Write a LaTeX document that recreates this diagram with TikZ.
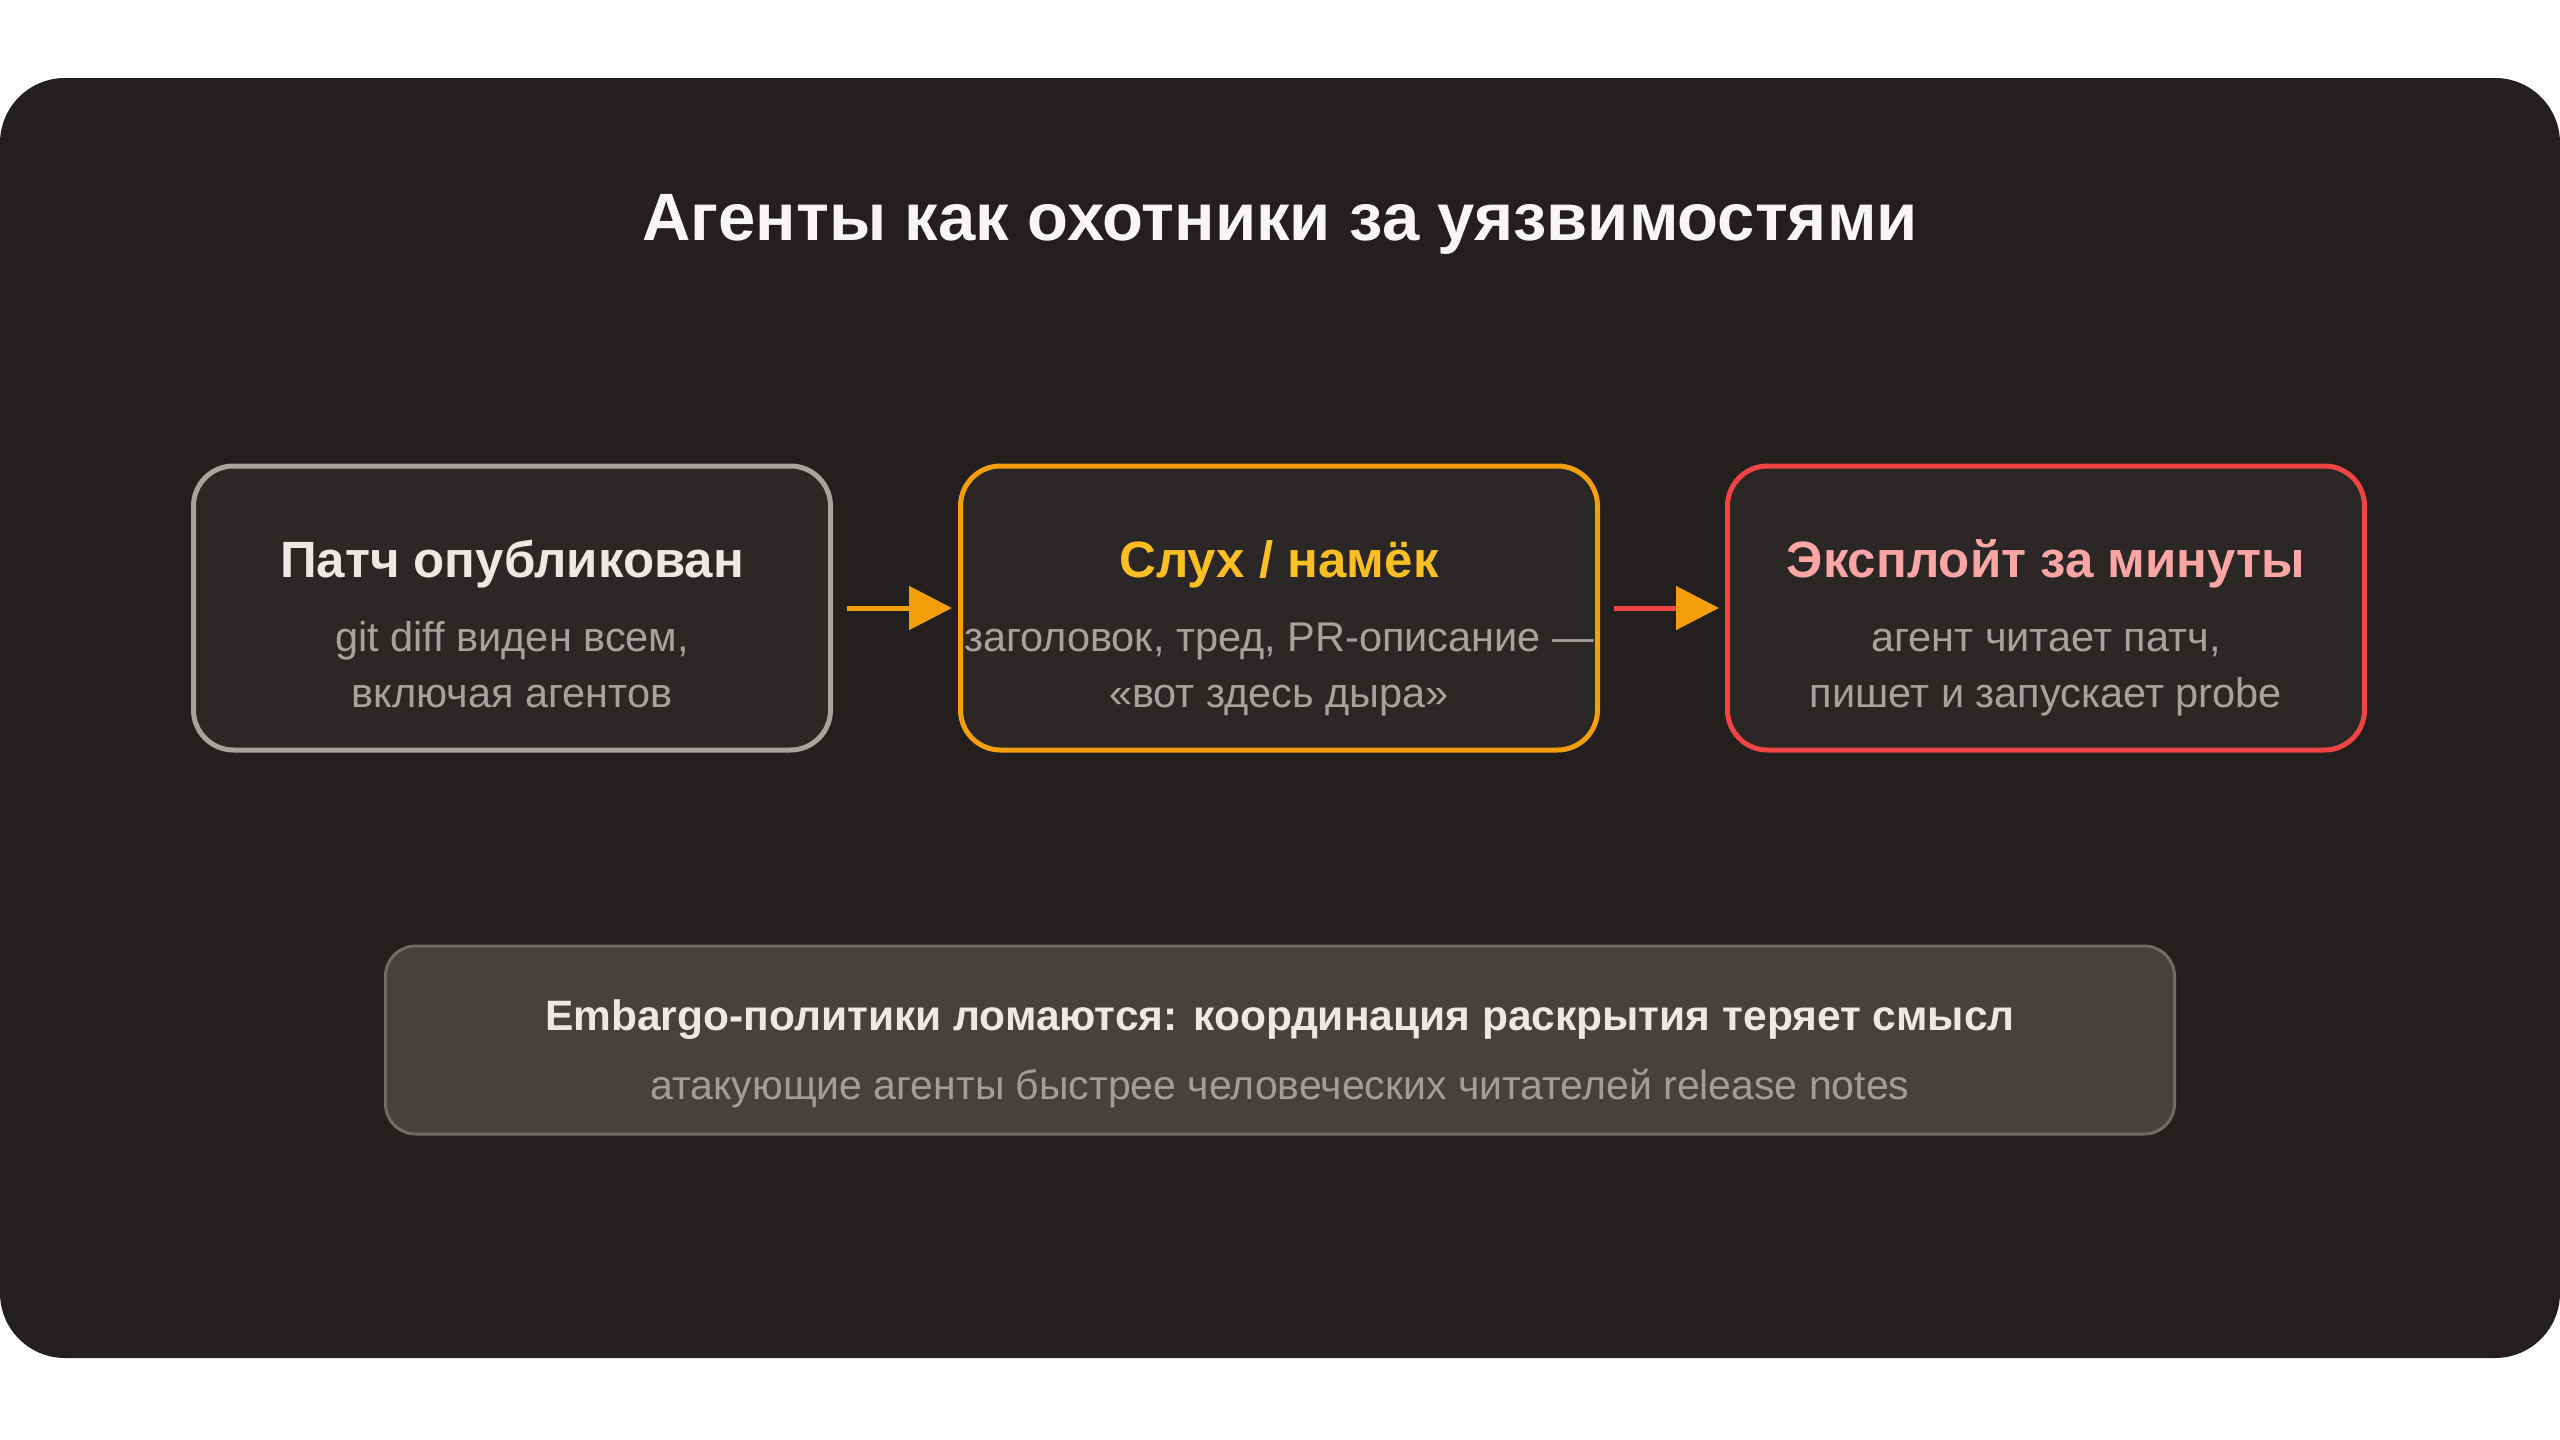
\documentclass[tikz,border=0pt]{standalone}
\usepackage{fontspec}
\setmainfont{Liberation Sans}
\usetikzlibrary{positioning,arrows.meta}
\definecolor{cardbg}{HTML}{221F1E}
\definecolor{boxbg}{HTML}{2A2726}
\definecolor{titlecol}{HTML}{F7F6F4}
\definecolor{subtext}{HTML}{A8A29E}
\definecolor{patchline}{HTML}{A8A39D}
\definecolor{patchhead}{HTML}{ECE9E5}
\definecolor{rumorline}{HTML}{F59E0B}
\definecolor{rumorhead}{HTML}{FBBF24}
\definecolor{exploitline}{HTML}{EF4444}
\definecolor{exploithead}{HTML}{FCA5A5}
\definecolor{embbg}{HTML}{45413C}
\definecolor{embline}{HTML}{6E6A64}
\definecolor{embsub}{HTML}{A19D97}
\begin{document}
\begin{tikzpicture}[x=1pt,y=-1pt,
    stage/.style={draw, line width=5pt, rounded corners=40pt, fill=boxbg,
      minimum width=637pt, minimum height=284pt},
    head/.style={font=\fontsize{51}{61}\selectfont\bfseries, anchor=base},
    note/.style={font=\fontsize{41.5}{50}\selectfont, text=subtext, anchor=base},
    flow/.style={line width=5pt, -{Triangle[length=43pt,width=43pt]},
      shorten <=14pt, shorten >=6pt}]
  \useasboundingbox (0,0) rectangle (2560,1440);
  \fill[white] (0,0) rectangle (2560,1440);
  \fill[cardbg, rounded corners=65pt] (0,78) rectangle (2560,1358);
  \node[font=\fontsize{67}{80}\selectfont\bfseries, text=titlecol, anchor=base]
    (title) at (1280,240) {Агенты как охотники за уязвимостями};
  % three stages
  \node[stage, draw=patchline] (patch) at (512,608) {};
  \node[stage, draw=rumorline, right=125pt of patch] (rumor) {};
  \node[stage, draw=exploitline, right=125pt of rumor] (exploit) {};
  \node[head, text=patchhead] (patchtitle) at ([yshift=31pt]patch.center) {Патч опубликован};
  \node[note] (patchnote1) at ([yshift=-43pt]patch.center) {git diff виден всем,};
  \node[note] (patchnote2) at ([yshift=-99pt]patch.center) {включая агентов};
  \node[head, text=rumorhead] (rumortitle) at ([yshift=31pt]rumor.center) {Слух / намёк};
  \node[note] (rumornote1) at ([yshift=-43pt]rumor.center) {заголовок, тред, PR-описание —};
  \node[note] (rumornote2) at ([yshift=-99pt]rumor.center) {«вот здесь дыра»};
  \node[head, text=exploithead] (exploittitle) at ([yshift=31pt]exploit.center) {Эксплойт за минуты};
  \node[note] (exploitnote1) at ([yshift=-43pt]exploit.center) {агент читает патч,};
  \node[note] (exploitnote2) at ([yshift=-99pt]exploit.center) {пишет и запускает probe};
  \draw[flow, rumorline] (patch) -- (rumor);
  \draw[flow, exploitline, -{Triangle[length=43pt,width=43pt,color=rumorline]}] (rumor) -- (exploit);
  % embargo note
  \node[draw=embline, line width=3pt, fill=embbg, rounded corners=30pt,
    minimum width=1789pt, minimum height=188pt] (embargo) at (1280,1040) {};
  \node[font=\fontsize{42.5}{51}\selectfont\bfseries, text=patchhead, anchor=base]
    (embargotitle) at ([yshift=10pt]embargo.center)
    {Embargo-политики ломаются: координация раскрытия теряет смысл};
  \node[note, text=embsub, font=\fontsize{41}{49}\selectfont]
    (embargonote) at ([yshift=-59pt]embargo.center)
    {атакующие агенты быстрее человеческих читателей release notes};
\end{tikzpicture}
\end{document}
